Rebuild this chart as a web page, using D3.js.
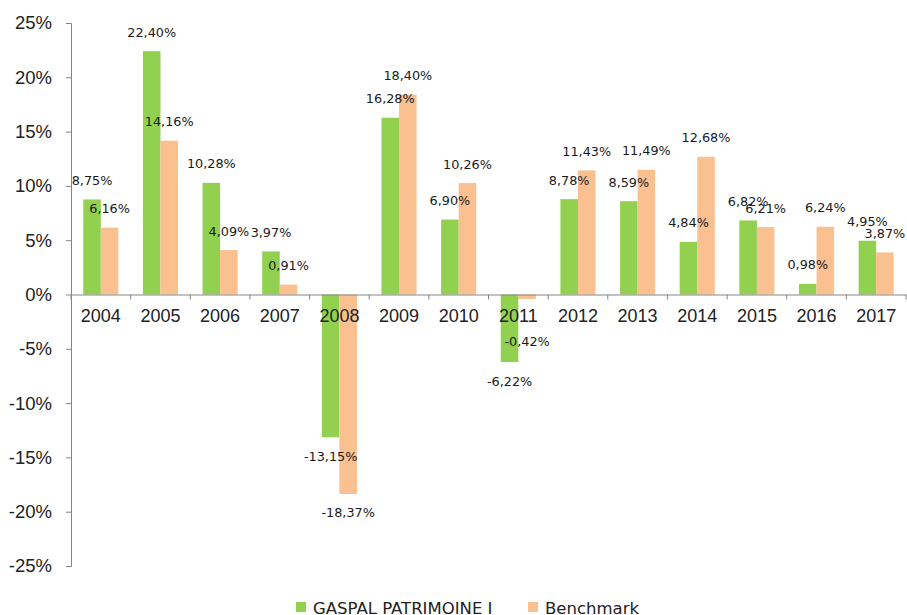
<!DOCTYPE html>
<html>
<head>
<meta charset="utf-8">
<script src="https://cdn.jsdelivr.net/npm/d3@7"></script>
<style>
  body { margin: 0; background: #fff; }
  svg { display: block; font-family: "DejaVu Sans", Verdana, sans-serif; }
</style>
</head>
<body>
<div id="chartContainer"></div>
<script>

var years = ['2004', '2005', '2006', '2007', '2008', '2009', '2010', '2011', '2012', '2013', '2014', '2015', '2016', '2017']
var fundValues = [8.75, 22.40, 10.28, 3.97, -13.15, 16.28, 6.90, -6.22, 8.78, 8.59, 4.84, 6.82, 0.98, 4.95]
var benchValues = [6.16, 14.16, 4.09, 0.91, -18.37, 18.40, 10.26, -0.42, 11.43, 11.49, 12.68, 6.21, 6.24, 3.87]
var seriesNames = ['GASPAL PATRIMOINE I', 'Benchmark']
var yTicks = [-25, -20, -15, -10, -5, 0, 5, 10, 15, 20, 25]

var width = 907, height = 615
var colors = ['#92D050', '#FAC090']

var chartSvg = d3.select('#chartContainer').append('svg')
    .attr('width', width)
    .attr('height', height)

var xScale = d3.scaleBand()
    .domain(years)
    .range([71, 906])
    .paddingInner(0)
    .paddingOuter(0)

var xSub = d3.scaleBand()
    .domain([0, 1])
    .range([0, xScale.bandwidth()])
    .paddingOuter(0.7)
    .paddingInner(0)

var yScale = d3.scaleLinear()
    .domain([-25, 25])
    .range([566, 23])

var fr = d3.formatLocale({ decimal: ',', thousands: ' ', grouping: [3], currency: ['', '€'], minus: '-' })
var formatPct = function(v) { return fr.format('.2f')(v) + '%' }

var rows = years.map(function(y, i) {
    return { year: y, values: [fundValues[i], benchValues[i]] }
})

// bars
var groups = chartSvg.selectAll('.grp')
    .data(rows)
    .enter()
    .append('g')
    .attr('class', 'grp')
    .attr('transform', function(d) { return 'translate(' + xScale(d.year) + ',0)' })

groups.selectAll('rect')
    .data(function(d) { return d.values.map(function(v, k) { return { k: k, v: v } }) })
    .enter()
    .append('rect')
    .attr('x', function(d) { return xSub(d.k) })
    .attr('width', xSub.bandwidth())
    .attr('y', function(d) { return yScale(Math.max(0, d.v)) })
    .attr('height', function(d) { return Math.abs(yScale(d.v) - yScale(0)) })
    .style('fill', function(d) { return colors[d.k] })

// value labels (negative ones that would hit the year labels go below them)
function labelY(d) {
    if (d.v >= 0) return yScale(d.v) - 19
    var y = yScale(d.v) + 19
    return y < yScale(0) + 40 ? yScale(0) + 47 : y
}

groups.selectAll('.lbl')
    .data(function(d) { return d.values.map(function(v, k) { return { k: k, v: v } }) })
    .enter()
    .append('text')
    .attr('class', 'lbl')
    .attr('x', function(d) { return xSub(d.k) + xSub.bandwidth() / 2 })
    .attr('y', labelY)
    .attr('dy', '0.35em')
    .attr('text-anchor', 'middle')
    .style('font-size', '12.8px')
    .style('fill', '#1a1a1a')
    .text(function(d) { return formatPct(d.v) })

// y axis
var yAxis = chartSvg.append('g')
    .attr('class', 'yAxis')
    .attr('transform', 'translate(71,0)')
    .call(d3.axisLeft(yScale).tickValues(yTicks).tickSize(5).tickPadding(14)
        .tickFormat(function(d) { return d + '%' }))
yAxis.select('.domain').attr('stroke', '#868686')
yAxis.selectAll('.tick line').attr('stroke', '#868686')
yAxis.selectAll('text').style('font-size', '18.5px').style('fill', '#222')

// x axis at zero
var xAxis = chartSvg.append('g')
    .attr('class', 'xAxis')
    .attr('transform', 'translate(0,' + yScale(0) + ')')
    .call(d3.axisBottom(xScale).tickSize(0).tickPadding(15))
xAxis.select('.domain').attr('stroke', '#868686')
xAxis.selectAll('text').style('font-size', '18px').style('fill', '#222')

xAxis.selectAll('.sep')
    .data(years.concat(['end']))
    .enter()
    .append('line')
    .attr('class', 'sep')
    .attr('x1', function(d, i) { return i < years.length ? xScale(d) : xScale.range()[1] })
    .attr('x2', function(d, i) { return i < years.length ? xScale(d) : xScale.range()[1] })
    .attr('y1', 0)
    .attr('y2', 5)
    .attr('stroke', '#868686')

// legend
var legend = chartSvg.append('g').attr('class', 'legend')
var legendX = [296, 528]
seriesNames.forEach(function(name, i) {
    legend.append('rect')
        .attr('x', legendX[i])
        .attr('y', 602)
        .attr('width', 10)
        .attr('height', 10)
        .style('fill', colors[i])
    legend.append('text')
        .attr('x', legendX[i] + 17)
        .attr('y', 614)
        .style('font-size', '16.5px')
        .style('fill', '#222')
        .text(name)
})

</script>
</body>
</html>
